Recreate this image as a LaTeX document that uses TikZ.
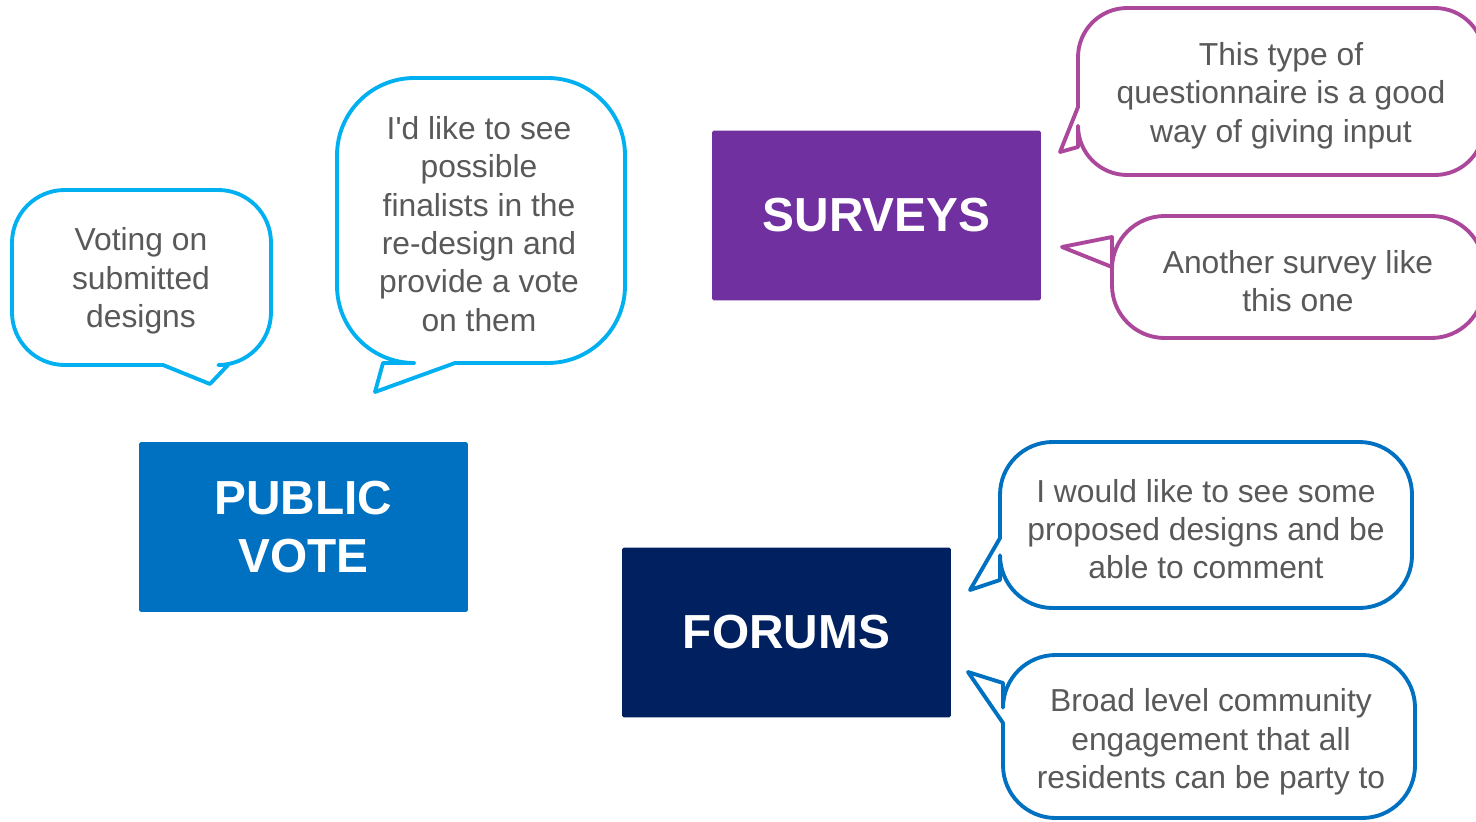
\documentclass[tikz,border=0pt]{standalone}
\usepackage{fontspec}
\setmainfont{Liberation Sans}[Ligatures=TeXOff]
\definecolor{votecyan}{HTML}{00B0F0}
\definecolor{voteblue}{HTML}{0070C0}
\definecolor{surveyplum}{HTML}{7030A0}
\definecolor{surveypink}{RGB}{172,72,156}
\definecolor{forumnavy}{HTML}{002060}
\definecolor{talkgray}{HTML}{595959}
\tikzset{
  topic/.style={fill=#1,text=white,font=\fontsize{27.2}{32.5}\selectfont\bfseries,align=center,
    minimum width=6.58cm,minimum height=3.4cm,rounded corners=1pt},
  saying/.style={text=talkgray,font=\fontsize{18.1}{21.8}\selectfont,align=center},
  bubble/.style={draw=#1,line width=2.2pt,fill=white,line join=round}
}
\begin{document}
\begin{tikzpicture}[x=0.02cm,y=-0.02cm]
\clip (0,0) rectangle (1476,821);

\node[topic=voteblue]   (vote)    at (303.5,527) {PUBLIC\\VOTE};
\node[topic=surveyplum] (surveys) at (876.5,215.5) {SURVEYS};
\node[topic=forumnavy]  (forums)  at (786.5,632.5) {FORUMS};

\draw[bubble=votecyan] (163,365) [rounded corners=30] -- (12,365) -- (12,190) -- (271,190) -- (271,365)
      [sharp corners] -- (228,365) -- (210,384) -- cycle;
\draw[bubble=votecyan] (455,363) [rounded corners=44] -- (625,363) -- (625,78) -- (337,78) -- (337,363)
      [sharp corners] -- (383,363) -- (375,392) -- cycle;
\draw[bubble=surveypink] (1078,147) [rounded corners=28] -- (1078,175) -- (1484,175) -- (1484,8) -- (1078,8)
      [sharp corners] -- (1078,107) -- (1060,152) -- cycle;
\draw[bubble=surveypink] (1112,267) [rounded corners=30] -- (1112,338) -- (1484,338) -- (1484,216) -- (1112,216)
      [sharp corners] -- (1112,237) -- (1062,247) -- cycle;
\draw[bubble=voteblue] (1000,580) [rounded corners=30] -- (1000,608) -- (1412,608) -- (1412,442) -- (1000,442)
      [sharp corners] -- (1000,538) -- (970,590) -- cycle;
\draw[bubble=voteblue] (1003,723) [rounded corners=30] -- (1003,818) -- (1415,818) -- (1415,655) -- (1003,655)
      [sharp corners] -- (1003,683) -- (968,672) -- cycle;

\node[saying] (vote1)   at (141,281)  {Voting on\\submitted\\designs};
\node[saying] (vote2)   at (479,224)  {I'd like to see\\possible\\finalists in the\\re-design and\\provide a vote\\on them};
\node[saying] (survey1) at (1281,95.5){This type of\\questionnaire is a good\\way of giving input};
\node[saying] (survey2) at (1298,281) {Another survey like\\this one};
\node[saying] (forum1)  at (1206,529) {I would like to see some\\proposed designs and be\\able to comment};
\node[saying] (forum2)  at (1211,742) {Broad level community\\engagement that all\\residents can be party to};
\end{tikzpicture}
\end{document}
